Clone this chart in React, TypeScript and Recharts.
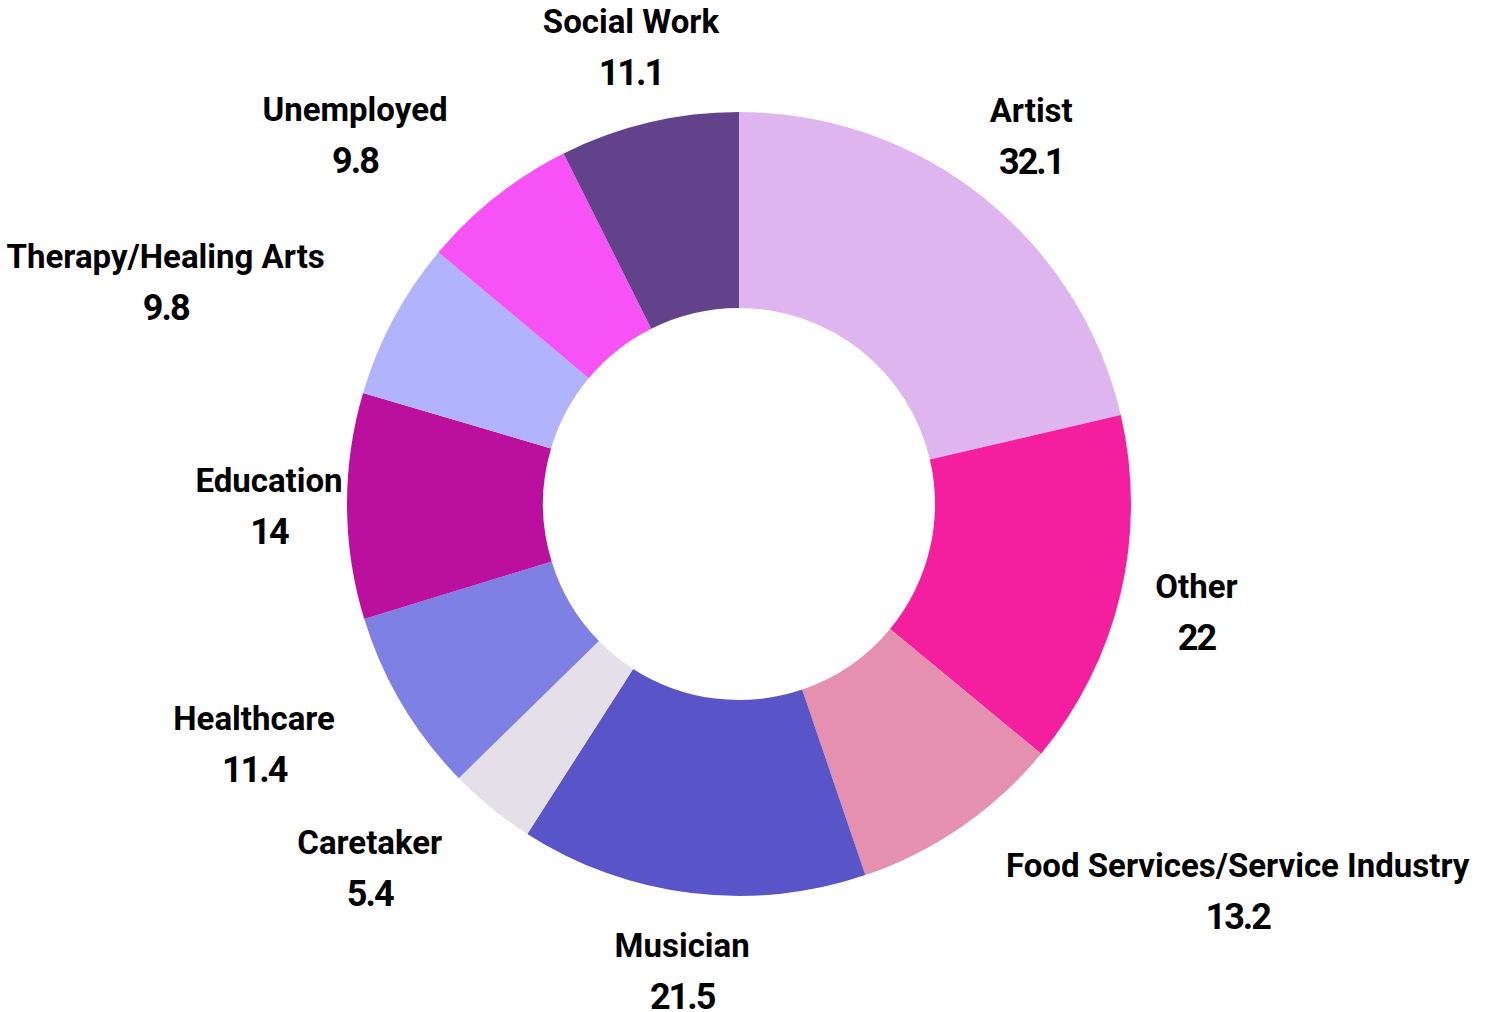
import { Cell, Pie, PieChart } from "recharts"

const categories = [
  "Artist",
  "Other",
  "Food Services/Service Industry",
  "Musician",
  "Caretaker",
  "Healthcare",
  "Education",
  "Therapy/Healing Arts",
  "Unemployed",
  "Social Work",
]
const values = [32.1, 22, 13.2, 21.5, 5.4, 11.4, 14, 9.8, 9.8, 11.1]
const colors = [
  "#dfb5f0",
  "#f41f9f",
  "#e490ae",
  "#5955c8",
  "#e4dfe9",
  "#7f80e4",
  "#ba109d",
  "#b1b4fd",
  "#f752f5",
  "#63428c",
]

const data = categories.map((name, i) => ({ name, value: values[i] }))

const NAME_FONT = "700 33px Roboto"
const VALUE_FONT = "700 36px Roboto"
const VALUE_SPACING = -2
const RAD = Math.PI / 180

let ctx: CanvasRenderingContext2D | null = null
const measure = (s: string, font: string, spacing = 0) => {
  if (!ctx) ctx = document.createElement("canvas").getContext("2d")
  if (!ctx) return s.length * 16
  ctx.font = font
  return ctx.measureText(s).width + spacing * s.length
}

// label sits 78px outside the ring; pushed sideways when a centred box would hit the ring
const renderLabel = (props: any) => {
  const { cx, cy, midAngle, outerRadius, name, value } = props
  const r = outerRadius + 78
  const x = cx + r * Math.cos(-midAngle * RAD)
  const y = cy + r * Math.sin(-midAngle * RAD)
  const w = Math.max(measure(name, NAME_FONT), measure(String(value), VALUE_FONT, VALUE_SPACING))
  const px = Math.min(Math.max(cx, x - w / 2), x + w / 2)
  const py = Math.min(Math.max(cy, y - 50), y + 50)
  const hits = Math.hypot(px - cx, py - cy) < outerRadius
  let mid = x
  if (hits) mid = x > cx ? x + w / 2 : x - w / 2
  return (
    <g>
      <text x={mid} y={y - 14} textAnchor="middle" fill="#000" style={{ font: NAME_FONT }}>
        {name}
      </text>
      <text
        x={mid}
        y={y + 38}
        textAnchor="middle"
        fill="#000"
        style={{ font: VALUE_FONT, letterSpacing: VALUE_SPACING }}
      >
        {value}
      </text>
    </g>
  )
}

export default function App() {
  return (
    <div style={{ position: "fixed", left: 0, top: 0, width: 1488, height: 1012, background: "#fff" }}>
      <PieChart width={1488} height={1012} margin={{ top: 0, right: 0, bottom: 0, left: 0 }}>
        <Pie
          data={data}
          dataKey="value"
          nameKey="name"
          cx={739}
          cy={504}
          innerRadius={196}
          outerRadius={392}
          startAngle={90}
          endAngle={-270}
          stroke="none"
          label={renderLabel}
          labelLine={false}
          isAnimationActive={false}
        >
          {data.map((d, i) => (
            <Cell key={d.name} fill={colors[i]} />
          ))}
        </Pie>
      </PieChart>
    </div>
  )
}
